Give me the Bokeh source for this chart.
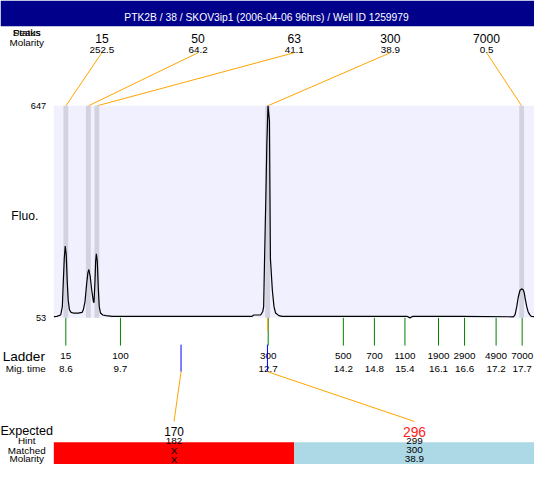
import numpy as np
from bokeh.plotting import figure
from bokeh.models import Range1d, ColumnDataSource
from bokeh.core.properties import value
from bokeh.embed import file_html
from bokeh.resources import INLINE

# ---------------- data ----------------
title = "PTK2B / 38 / SKOV3ip1 (2006-04-06 96hrs) / Well ID 1259979"

peak_size = [15, 50, 63, 300, 7000]
peak_molarity = [252.5, 64.2, 41.1, 38.9, 0.5]
peak_time = [8.62, 9.07, 9.24, 12.65, 17.72]

ladder_size = [15, 100, 300, 500, 700, 1100, 1900, 2900, 4900, 7000]
ladder_time = [8.62, 9.71, 12.66, 14.16, 14.78, 15.39, 16.06, 16.58, 17.21, 17.73]

fluo_ticks = [53, 647]
time_window = [8.38, 17.98]

trace_time = [8.382, 8.44, 8.517, 8.55, 8.57, 8.589, 8.608, 8.628, 8.647, 8.667,
              8.692, 8.725, 8.769, 8.866, 8.944, 8.969, 9.002, 9.035, 9.06, 9.079,
              9.105, 9.138, 9.171, 9.182, 9.202, 9.215, 9.229, 9.248, 9.267, 9.287,
              9.312, 9.357, 9.422, 9.55, 10.5, 11.5, 12.336, 12.375, 12.51, 12.55,
              12.569, 12.589, 12.613, 12.632, 12.656, 12.685, 12.704, 12.743, 12.776, 12.807,
              12.873, 12.937, 14.0, 15.43, 15.489, 15.55, 16.5, 17.556, 17.589, 17.622,
              17.653, 17.686, 17.719, 17.75, 17.769, 17.796, 17.822, 17.847, 17.88, 17.913,
              17.977]
trace_fluo = [56.5, 57.3, 61, 84.4, 156.8, 219.9, 254.3, 229, 156.8, 102.6,
              75.5, 68.2, 66.5, 66.5, 68.2, 75.5, 98, 147.8, 179.2, 188.5,
              170.3, 129.7, 98, 95.3, 156.8, 211, 232.6, 211, 138.6, 84.4,
              66.5, 61.1, 59.2, 57.3, 57.3, 57.3, 57.3, 61, 61, 70,
              84.4, 229.9, 392.4, 536, 647, 604, 220, 129.7, 84.4, 66.5,
              59.2, 57.3, 57.3, 57.3, 53, 57.3, 57.3, 56, 62, 84.4,
              111.5, 129.7, 134.3, 131.6, 125, 102.6, 84.4, 71, 62, 57.3,
              56.5]

expected_size = [170, 296]
expected_time = [10.92, 12.645]
hint_size = [182, 299]
matched_size = ["X", "300"]
matched_molarity = ["X", "38.9"]
matched_ok = [False, True]

# ---------------- layout / style ----------------
FONT = "Liberation Sans"
W, H = 534, 464
REF_W, REF_H = 550.0, 480.0
S = W / REF_W

PX_PER_T = 51.59
T_LEFT = 7.3155


def t_at(px):
    return T_LEFT + px / PX_PER_T


PLOT_TOP, PLOT_BOTTOM = 109.0, 328.3
fpp = (fluo_ticks[1] - fluo_ticks[0]) / (PLOT_BOTTOM - PLOT_TOP)
y_lo = fluo_ticks[0] - (REF_H - PLOT_BOTTOM) * fpp
y_hi = fluo_ticks[1] + PLOT_TOP * fpp

p = figure(width=W, height=H, x_range=Range1d(T_LEFT, t_at(REF_W)),
           y_range=Range1d(y_lo, y_hi), output_backend="svg",
           toolbar_location=None, min_border=0, x_axis_type=None,
           y_axis_type=None, outline_line_color=None,
           background_fill_color="white", border_fill_color="white")
p.extra_y_ranges = {"px": Range1d(REF_H, 0)}


def txt(xs, ys, texts, size, color="black", align="center",
        baseline="alphabetic", yr="px"):
    src = ColumnDataSource(dict(x=list(xs), y=list(ys),
                                text=[str(t) for t in texts],
                                c=list(color) if isinstance(color, (list, tuple)) else [color] * len(xs)))
    p.text(x="x", y="y", text="text", source=src, text_font=value(FONT),
           text_font_size=value(f"{size * S:.2f}px"), text_color="c",
           text_align=align, text_baseline=baseline, y_range_name=yr)


# title bar
p.quad(left=[t_at(0)], right=[t_at(REF_W)], top=[0], bottom=[26.7],
       fill_color="#00008B", line_color=None, y_range_name="px")
txt([t_at(274)], [18.0], [title], 10.6, color="white")

# peak labels row
n_pk = len(peak_size)
slot_w = (time_window[1] - time_window[0]) / n_pk
slot_c = [time_window[0] + (i + 0.5) * slot_w for i in range(n_pk)]
txt([t_at(27)] * 2, [32.7] * 2, ["Peaks", "Status"], 10.2)
txt([t_at(27)], [43.5], ["Molarity"], 10.2)
txt(slot_c, [39.3] * n_pk, peak_size, 12.5)
txt(slot_c, [50.7] * n_pk, peak_molarity, 10.2)
p.segment(x0=slot_c, y0=[54] * n_pk, x1=peak_time, y1=[PLOT_TOP] * n_pk,
          line_color="#FFA500", line_width=1, y_range_name="px")

# plot area
p.quad(left=[time_window[0]], right=[time_window[1]], bottom=[fluo_ticks[0]],
       top=[fluo_ticks[1]], fill_color="#F0F0FF", line_color=None)
hw = 2.5 / PX_PER_T
p.quad(left=[t - hw for t in peak_time], right=[t + hw for t in peak_time],
       bottom=[fluo_ticks[0]] * n_pk, top=[fluo_ticks[1]] * n_pk,
       fill_color="#D2D2E0", line_color=None)
p.line(trace_time, trace_fluo, line_color="black", line_width=1.2)

# y tick labels + axis title
txt([t_at(47)] * 2, fluo_ticks, fluo_ticks, 9.5, align="right",
    baseline="middle", yr="default")
txt([t_at(25)], [223], ["Fluo."], 12.5)

# ladder
n_ld = len(ladder_size)
p.segment(x0=ladder_time, y0=[PLOT_BOTTOM] * n_ld, x1=ladder_time,
          y1=[357] * n_ld, line_color="#008000", line_width=1, y_range_name="px")
matched_times = [peak_time[peak_size.index(int(m))] for m in matched_size if m != "X"]
p.segment(x0=matched_times, y0=[PLOT_BOTTOM] * len(matched_times),
          x1=matched_times, y1=[342] * len(matched_times),
          line_color="#FFA500", line_width=1, y_range_name="px")
txt([t_at(24)], [368.3], ["Ladder"], 14)
txt([t_at(26)], [381], ["Mig. time"], 10.2)
txt(ladder_time, [367.7] * n_ld, ladder_size, 10.2)
txt(ladder_time, [381] * n_ld, [f"{t:.1f}" for t in ladder_time], 10.2)

# expected fragments
n_ex = len(expected_size)
col_w = (time_window[1] - time_window[0]) / n_ex
col_c = [time_window[0] + (i + 0.5) * col_w for i in range(n_ex)]
p.segment(x0=expected_time, y0=[356] * n_ex, x1=expected_time, y1=[384] * n_ex,
          line_color="#0000FF", line_width=1, y_range_name="px")
p.segment(x0=expected_time, y0=[384] * n_ex, x1=col_c, y1=[435.5] * n_ex,
          line_color="#FFA500", line_width=1, y_range_name="px")

p.quad(left=[time_window[0] + i * col_w for i in range(n_ex)],
       right=[time_window[0] + (i + 1) * col_w for i in range(n_ex)],
       top=[457] * n_ex, bottom=[481] * n_ex,
       fill_color=["#ADD8E6" if ok else "#FF0000" for ok in matched_ok],
       line_color=None, y_range_name="px")

txt([t_at(27)], [445.5], ["Expected"], 13)
txt([t_at(27)], [455.5], ["Hint"], 10.2)
txt([t_at(27)], [465], ["Matched"], 10.2)
txt([t_at(27)], [474.3], ["Molarity"], 10.2)
txt([col_c[0]], [445.5], [expected_size[0]], 12.2)
txt([col_c[1]], [446.5], [expected_size[1]], 14.2, color="#FF2020")
txt(col_c, [455.5] * n_ex, hint_size, 10.2)
txt(col_c, [465] * n_ex, matched_size, 10.2)
txt(col_c, [474.6] * n_ex, matched_molarity, 10.2)

open("out.html", "w").write(file_html(p, INLINE))
